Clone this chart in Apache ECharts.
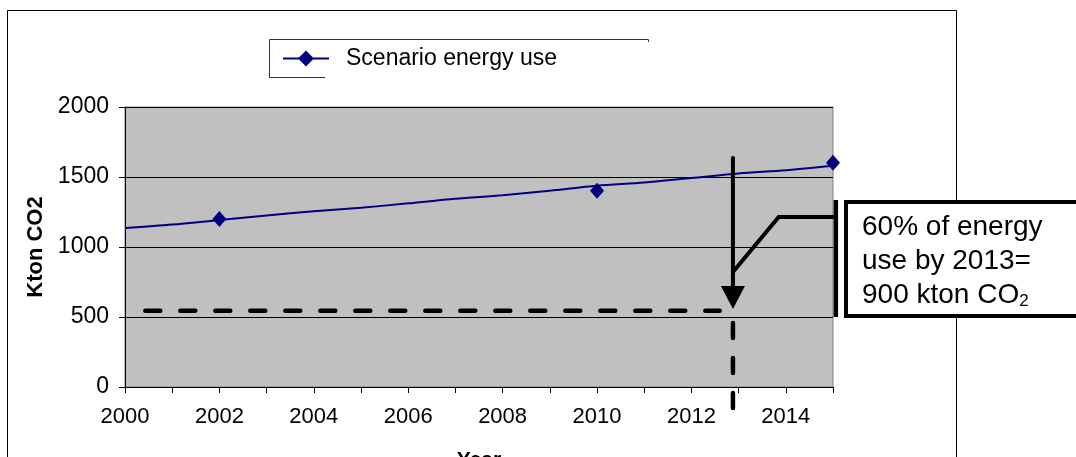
<!DOCTYPE html>
<html>
<head>
<meta charset="utf-8">
<script src="https://cdn.jsdelivr.net/npm/echarts@6/dist/echarts.min.js"></script>
<style>
  html, body { margin: 0; padding: 0; background: #fff; }
  #main { width: 1076px; height: 457px; }
</style>
</head>
<body>
<div id="main"></div>
<script>
// data
const years = [2000, 2001, 2002, 2003, 2004, 2005, 2006, 2007, 2008, 2009, 2010, 2011, 2012, 2013, 2014, 2015];
const scenarioLine = [1135, 1160, 1193, 1225, 1255, 1280, 1312, 1345, 1370, 1402, 1437, 1460, 1492, 1525, 1548, 1580];
const markerYears = [2002, 2010, 2015];
const markerValues = [1200, 1402, 1602];

// annotation (arrow, dashed guides, bracket) in data units
const targetYear = 2012.88;
const targetLevel = 545;
const dashedLevel = [[2000.43, targetLevel], [2012.6, targetLevel]];
const arrowShaft = [[targetYear, 1636], [targetYear, 639]];
const dashedDrop = [[targetYear, 457], [targetYear, -180]];
const bracketArm = [[targetYear, 821], [2013.85, 1214], [2015.06, 1214]];
const bracketBar = [[2015.06, 1336], [2015.06, 500]];

var chart = echarts.init(document.getElementById('main'));

const fontFamily = 'Arial, "Liberation Sans", sans-serif';
const dashStyle = { color: '#000', width: 4.5, type: [15, 20], cap: 'round' };

var option = {
  backgroundColor: '#fff',
  animation: false,
  textStyle: { fontFamily: fontFamily, color: '#000' },
  grid: {
    left: 125, top: 107, width: 708, height: 280,
    outerBoundsMode: 'none',
    containLabel: false,
    show: true,
    backgroundColor: '#C0C0C0',
    borderColor: '#808080',
    borderWidth: 1
  },
  legend: {
    data: ['Scenario energy use'],
    left: 277,
    top: 42,
    itemWidth: 46,
    itemHeight: 20,
    textStyle: { fontSize: 23, color: '#000', padding: [0, 0, 0, 12] }
  },
  xAxis: {
    type: 'value',
    min: 2000,
    max: 2015,
    interval: 1,
    name: 'Year',
    nameLocation: 'middle',
    nameGap: 63,
    nameTextStyle: { fontSize: 21, fontWeight: 'bold', color: '#000', verticalAlign: 'top' },
    axisLine: { onZero: false, lineStyle: { color: '#000', width: 1 } },
    axisTick: { show: true, length: 6, lineStyle: { color: '#000' } },
    axisLabel: {
      fontSize: 22, color: '#000', margin: 19,
      formatter: function (v) { return v % 2 === 0 ? String(v) : ''; }
    },
    splitLine: { show: false }
  },
  yAxis: {
    type: 'value',
    min: 0,
    max: 2000,
    interval: 500,
    name: 'Kton CO2',
    nameLocation: 'middle',
    nameRotate: 90,
    nameGap: 78,
    nameTextStyle: { fontSize: 22, fontWeight: 'bold', color: '#000' },
    axisLine: { show: true, lineStyle: { color: '#000', width: 1 } },
    axisTick: { show: true, length: 6, lineStyle: { color: '#000' } },
    axisLabel: {
      fontSize: 23, color: '#000', margin: 16,
      formatter: function (v) { return String(v); }
    },
    splitLine: { show: true, lineStyle: { color: '#000', width: 1 } }
  },
  series: [
    {
      name: 'Scenario energy use',
      type: 'line',
      data: years.map((y, i) => [y, scenarioLine[i]]),
      smooth: 0.3,
      symbol: 'diamond',
      symbolSize: [14, 16],
      showSymbol: false,
      lineStyle: { color: '#000080', width: 2 },
      itemStyle: { color: '#000080' },
      z: 3
    },
    {
      name: 'markers',
      type: 'scatter',
      data: markerYears.map((y, i) => [y, markerValues[i]]),
      symbol: 'diamond',
      symbolSize: [14, 16],
      itemStyle: { color: '#000080', opacity: 1 },
      clip: false,
      z: 4
    },
    {
      name: 'level',
      type: 'line',
      data: dashedLevel,
      symbol: 'none',
      lineStyle: dashStyle,
      z: 5
    },
    {
      name: 'drop',
      type: 'line',
      data: dashedDrop,
      symbol: 'none',
      clip: false,
      lineStyle: dashStyle,
      z: 5
    },
    {
      name: 'arrow',
      type: 'line',
      data: [
        { value: arrowShaft[0], symbol: 'none' },
        { value: arrowShaft[1], symbol: 'triangle', symbolSize: [24, 23], symbolRotate: 180 }
      ],
      showSymbol: true,
      itemStyle: { color: '#000' },
      lineStyle: { color: '#000', width: 4, cap: 'round' },
      clip: false,
      z: 6
    }
  ],
  graphic: [
    {
      type: 'rect',
      shape: { x: 7.5, y: 10.5, width: 949, height: 470 },
      style: { fill: 'none', stroke: '#000', lineWidth: 1 },
      z: -1,
      silent: true
    },
    {
      type: 'polyline',
      shape: { points: [[648.5, 42], [648.5, 39.5], [269.5, 39.5], [269.5, 77.5], [325, 77.5]] },
      style: { fill: 'none', stroke: '#333', lineWidth: 1 },
      silent: true
    },
    {
      type: 'rect',
      shape: { x: 846, y: 202, width: 260, height: 114 },
      style: { fill: '#fff', stroke: '#000', lineWidth: 4 },
      z: 10,
      silent: true
    },
    {
      type: 'text',
      left: 862,
      top: 210,
      z: 11,
      silent: true,
      style: {
        text: '60% of energy\nuse by 2013=\n900 kton CO{sub|2}',
        font: '28px ' + fontFamily,
        fill: '#000',
        lineHeight: 34,
        rich: {
          sub: { fontSize: 17, fontFamily: fontFamily, padding: [12, 0, 0, 0], lineHeight: 34 }
        }
      }
    }
  ]
};

chart.setOption(option);

// bracket reaches past the plot edge, so draw it from the axis scale as graphics
function toPx(pts) {
  return pts.map(p => chart.convertToPixel({ gridIndex: 0 }, p));
}
chart.setOption({
  graphic: [
    {
      id: 'bracketArm',
      type: 'polyline',
      shape: { points: toPx(bracketArm) },
      style: { fill: 'none', stroke: '#000', lineWidth: 4, lineJoin: 'miter' },
      z: 6,
      silent: true
    },
    {
      id: 'bracketBar',
      type: 'polyline',
      shape: { points: toPx(bracketBar) },
      style: { fill: 'none', stroke: '#000', lineWidth: 4.5 },
      z: 6,
      silent: true
    }
  ]
});
</script>
</body>
</html>
